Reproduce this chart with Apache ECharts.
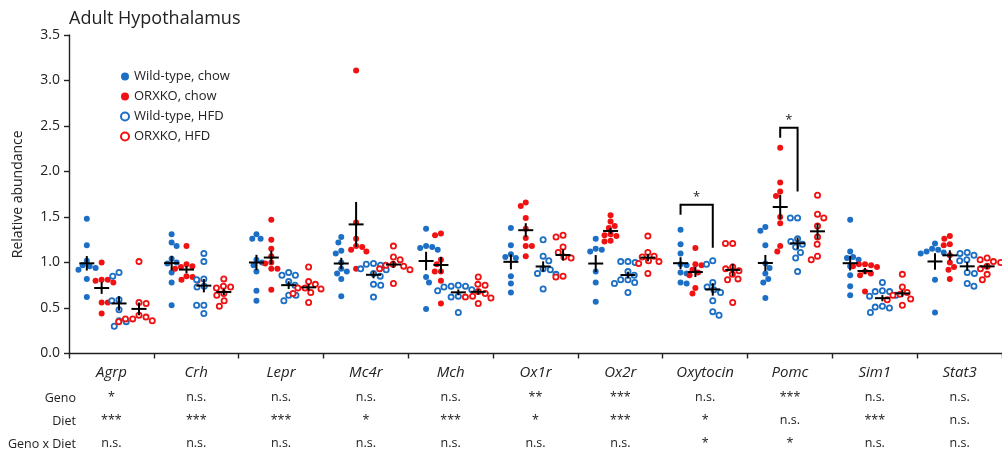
<!DOCTYPE html>
<html><head><meta charset="utf-8">
<script src="https://cdn.jsdelivr.net/npm/echarts@6/dist/echarts.min.js"></script>
<style>html,body{margin:0;padding:0;background:#fff}#c{width:1002px;height:450px}</style>
</head><body><div id="c"></div>
<script>
// ---------- data ----------
const genes = ['Agrp','Crh','Lepr','Mc4r','Mch','Ox1r','Ox2r','Oxytocin','Pomc','Sim1','Stat3'];
const seriesNames = ['Wild-type, chow','ORXKO, chow','Wild-type, HFD','ORXKO, HFD'];
const wtChow = [
  [1.48,1.19,1.02,0.97,0.96,0.94,0.92,0.82,0.62],
  [1.31,1.22,1.18,1.04,1.00,0.99,0.89,0.78,0.53],
  [1.31,1.26,1.26,1.03,1.00,0.97,0.90,0.69,0.58],
  [1.28,1.22,1.13,1.10,1.00,0.93,0.90,0.88,0.82,0.63],
  [1.37,1.18,1.17,1.16,1.14,0.84,0.78,0.49],
  [1.38,1.19,1.09,1.06,1.05,0.85,0.77,0.67],
  [1.26,1.15,1.14,1.12,0.90,0.78,0.57],
  [1.36,1.20,1.10,0.98,0.97,0.89,0.88,0.78,0.77],
  [1.39,1.35,1.19,0.99,0.94,0.88,0.82,0.78,0.61],
  [1.47,1.12,1.06,1.05,1.03,0.96,0.86,0.74,0.64],
  [1.21,1.15,1.14,1.12,1.11,1.10,0.81,0.45]
];
const koChow = [
  [1.00,0.81,0.81,0.80,0.78,0.56,0.56,0.44],
  [1.18,0.98,0.96,0.95,0.93,0.85,0.84,0.81,0.80],
  [1.47,1.25,1.15,1.07,1.00,0.99,0.93,0.93,0.70],
  [3.11,1.44,1.26,1.18,1.17,1.14,1.12,0.93],
  [1.32,1.30,1.03,0.98,0.90,0.90,0.80,0.55],
  [1.66,1.62,1.49,1.37,1.27,1.18,1.18,1.07],
  [1.52,1.45,1.40,1.38,1.31,1.30,1.29,1.24,1.23],
  [1.16,0.98,0.97,0.92,0.89,0.86,0.72,0.66],
  [2.26,1.88,1.78,1.73,1.50,1.43,1.18,1.12],
  [0.98,0.98,0.97,0.96,0.95,0.90,0.88,0.86,0.68],
  [1.29,1.26,1.20,1.19,1.08,1.00,0.95,0.92,0.82]
];
const wtHfd = [
  [0.89,0.85,0.59,0.58,0.48,0.36,0.35,0.30],
  [1.10,1.01,0.82,0.81,0.74,0.73,0.53,0.53,0.44],
  [0.89,0.86,0.86,0.79,0.75,0.64,0.64,0.58],
  [0.99,0.98,0.97,0.93,0.92,0.88,0.85,0.76,0.75,0.62],
  [0.75,0.74,0.74,0.73,0.70,0.69,0.63,0.62,0.45],
  [1.25,1.07,1.02,0.93,0.92,0.88,0.87,0.71],
  [1.01,1.01,1.00,0.90,0.86,0.81,0.81,0.78,0.77,0.67],
  [1.02,0.98,0.78,0.73,0.70,0.67,0.58,0.46,0.42],
  [1.49,1.49,1.26,1.23,1.20,1.17,1.11,1.05,0.90],
  [0.78,0.69,0.68,0.68,0.64,0.63,0.52,0.51,0.50,0.45],
  [1.11,1.10,1.08,1.03,1.02,0.89,0.88,0.77,0.74]
];
const koHfd = [
  [1.01,0.56,0.55,0.42,0.40,0.38,0.38,0.36,0.35],
  [0.82,0.74,0.73,0.72,0.66,0.64,0.58,0.52],
  [0.95,0.79,0.76,0.72,0.72,0.71,0.67,0.66,0.56],
  [1.18,1.06,1.03,0.98,0.97,0.96,0.93,0.92,0.77],
  [0.84,0.76,0.75,0.68,0.66,0.63,0.62,0.61,0.55],
  [1.30,1.28,1.17,1.11,1.06,1.05,0.85,0.84],
  [1.29,1.11,1.07,1.06,1.02,1.01,0.99,0.88],
  [1.21,1.21,0.95,0.93,0.91,0.87,0.82,0.81,0.56],
  [1.74,1.53,1.49,1.40,1.28,1.20,1.07,1.03],
  [0.87,0.73,0.67,0.65,0.64,0.60,0.59,0.53],
  [1.05,1.03,1.01,1.00,0.96,0.93,0.87,0.81]
];
const genoSig  = ['*','n.s.','n.s.','n.s.','n.s.','**','***','n.s.','***','n.s.','n.s.'];
const dietSig  = ['***','***','***','*','***','*','***','*','n.s.','***','n.s.'];
const interSig = ['n.s.','n.s.','n.s.','n.s.','n.s.','n.s.','n.s.','*','*','n.s.','n.s.'];
const rowLabels = ['Geno','Diet','Geno x Diet'];
const yTicks = [0,0.5,1.0,1.5,2.0,2.5,3.0,3.5];
// significance brackets: gene, from-group, to-group, top value, left end value, right end value
const brackets = [
  ['Oxytocin',0,2,1.635,1.525,1.163],
  ['Pomc',1,2,2.48,2.37,1.78]
];

// ---------- layout ----------
const W = 1002, H = 450;
const GRID = {left:69, right:-8, top:35, bottom:96};
const plotW = W - GRID.left - GRID.right;
const plotH = H - GRID.top - GRID.bottom;
const yMax = yTicks[yTicks.length-1];
const pxPerUnitY = plotH / yMax;
const pxPerCat = plotW / genes.length;
const groupPos = [0.21, 0.385, 0.59, 0.825];
const BLUE = '#1c6fc4', RED = '#f01212', INK = '#222';
const FONT = 'Open Sans';

// collision-based beeswarm (pixel space), returns [x, y] data points
function swarm(values, center, d) {
  const sorted = values.slice().sort((a,b)=>b-a);
  const placed = []; // [xpx, ypx]
  const pts = [];
  sorted.forEach((v, idx) => {
    const y = v * pxPerUnitY;
    const cands = [0];
    placed.forEach(p => {
      const dy = Math.abs(p[1] - y);
      if (dy < d) {
        const dx = Math.sqrt(d*d - dy*dy);
        cands.push(p[0] + dx + 0.01, p[0] - dx - 0.01);
      }
    });
    const ok = cands.filter(x => placed.every(p => (p[0]-x)*(p[0]-x) + (p[1]-y)*(p[1]-y) >= d*d - 0.05));
    ok.sort((a,b) => Math.abs(a) - Math.abs(b) || (idx % 2 ? a - b : b - a));
    const x = ok[0];
    placed.push([x, y]);
    pts.push([center + x / pxPerCat, v]);
  });
  return pts;
}
function meanSem(a) {
  const n = a.length, m = a.reduce((s,v)=>s+v,0)/n;
  const sd = Math.sqrt(a.reduce((s,v)=>s+(v-m)*(v-m),0)/(n-1));
  return [m, sd/Math.sqrt(n)];
}
const groups = [wtChow, koChow, wtHfd, koHfd];
const scatterSeries = groups.map((g, gi) => {
  const open = gi >= 2;
  const col = (gi % 2 === 0) ? BLUE : RED;
  const data = [];
  g.forEach((vals, ci) => {
    swarm(vals, ci + groupPos[gi], open ? 7.3 : 6.2).forEach(p => data.push(p));
  });
  return {
    name: seriesNames[gi], type: 'scatter', xAxisIndex: 0, yAxisIndex: 0,
    symbol: 'circle', symbolSize: open ? 5.2 : 6,
    itemStyle: open ? {color:'#fff', borderColor: col, borderWidth: 1.8, opacity:1}
                    : {color: col, borderWidth: 0, opacity:1},
    data, z: 2, emphasis: {disabled: true}
  };
});
const crossData = [];
groups.forEach((g, gi) => g.forEach((vals, ci) => {
  const [m, s] = meanSem(vals);
  crossData.push([ci + groupPos[gi], m, s]);
}));
const crossSeries = {
  type: 'custom', xAxisIndex: 0, yAxisIndex: 0, z: 5, silent: true,
  dimensions: ['x','mean','sem'], encode: {x: 0, y: 1},
  renderItem(params, api) {
    const x = api.value(0), m = api.value(1), s = api.value(2);
    const c = api.coord([x, m]), t = api.coord([x, m + s]), b = api.coord([x, m - s]);
    const st = {stroke: '#000', lineWidth: 2};
    return {type: 'group', children: [
      {type: 'line', shape: {x1: c[0]-7.5, y1: c[1], x2: c[0]+7.5, y2: c[1]}, style: st},
      {type: 'line', shape: {x1: c[0], y1: t[1], x2: c[0], y2: b[1]}, style: st}
    ]};
  },
  data: crossData
};
const bracketData = brackets.map(b => {
  const ci = genes.indexOf(b[0]);
  return [ci + groupPos[b[1]], ci + groupPos[b[2]], b[3], b[4], b[5]];
});
const bracketSeries = {
  type: 'custom', xAxisIndex: 0, yAxisIndex: 0, z: 6, silent: true,
  dimensions: ['x1','x2','top','l','r'], encode: {x: [0,1], y: [2,3,4]},
  renderItem(params, api) {
    const x1 = api.value(0), x2 = api.value(1), top = api.value(2), l = api.value(3), r = api.value(4);
    const a = api.coord([x1, l]), b = api.coord([x1, top]), c = api.coord([x2, top]), d = api.coord([x2, r]);
    return {type: 'group', children: [
      {type: 'polyline', shape: {points: [a, b, c, d]}, style: {stroke: '#000', lineWidth: 2, fill: null}},
      {type: 'text', x: (b[0]+c[0])/2, y: b[1] - 1, style: {text: '*', fill: INK, font: '13px "'+FONT+'"', textAlign: 'center', textVerticalAlign: 'bottom'}}
    ]};
  },
  data: bracketData
};

function sigAxis(data, offset) {
  return {
    type: 'category', data, position: 'bottom', offset, gridIndex: 0,
    boundaryGap: true,
    axisLine: {show: false, onZero: false}, axisTick: {show: false},
    axisLabel: {interval: 0, margin: 0, color: INK, fontSize: 12.5, fontFamily: FONT, verticalAlign: 'middle'},
    splitLine: {show: false}
  };
}

const chart = echarts.init(document.getElementById('c'), null, {renderer: 'canvas'});
chart.setOption({
  animation: false,
  backgroundColor: '#fff',
  title: {text: 'Adult Hypothalamus', left: 64, top: 5,
    textStyle: {fontFamily: FONT, fontSize: 18, fontWeight: 'normal', color: INK}},
  legend: {
    left: 115, top: 65, orient: 'vertical', itemGap: 7, itemWidth: 8, itemHeight: 8,
    data: seriesNames, icon: 'circle',
    textStyle: {fontFamily: FONT, fontSize: 13, color: INK, padding: [0,0,0,0]},
    selectedMode: false
  },
  grid: GRID,
  xAxis: [
    {type: 'value', min: 0, max: genes.length, show: false, gridIndex: 0,
      axisLine: {onZero: false}},
    {type: 'category', data: genes, position: 'bottom', gridIndex: 0, boundaryGap: true,
      axisLine: {show: true, onZero: false, lineStyle: {color: INK, width: 1.4}},
      axisTick: {show: true, alignWithLabel: false, interval: 0, length: 5, lineStyle: {color: INK, width: 1.4}},
      axisLabel: {interval: 0, margin: 19, verticalAlign: 'middle', color: INK, fontSize: 15,
        fontStyle: 'italic', fontFamily: FONT},
      splitLine: {show: false}},
    sigAxis(genoSig, 44), sigAxis(dietSig, 67), sigAxis(interSig, 90)
  ],
  yAxis: [{
    type: 'value', min: yTicks[0], max: yMax, interval: 0.5,
    name: 'Relative abundance', nameLocation: 'middle', nameGap: 44,
    nameTextStyle: {fontFamily: FONT, fontSize: 14, color: INK},
    axisLine: {show: true, onZero: false, lineStyle: {color: INK, width: 1.4}},
    axisTick: {show: true, length: 5, lineStyle: {color: INK, width: 1.4}},
    axisLabel: {margin: 9, color: INK, fontSize: 14, fontFamily: FONT, formatter: v => v.toFixed(1)},
    splitLine: {show: false}
  }],
  graphic: rowLabels.map((t, i) => ({
    type: 'text', x: 76, y: 398 + 23*i,
    style: {text: t, fill: INK, font: '12.5px "'+FONT+'"', textAlign: 'right', textVerticalAlign: 'middle'}
  })),
  series: [...scatterSeries, crossSeries, bracketSeries]
});
</script></body></html>
